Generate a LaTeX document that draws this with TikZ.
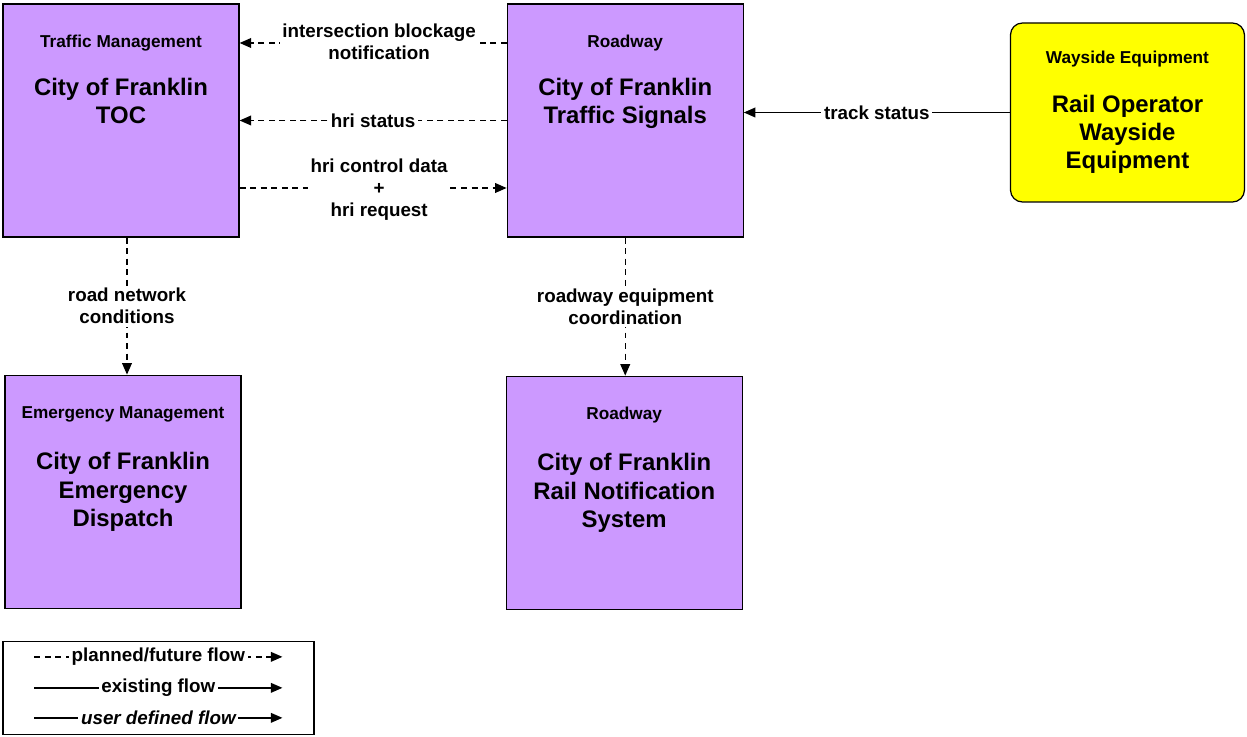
\documentclass[tikz,border=0pt]{standalone}
\usepackage{fontspec}
\setmainfont{Liberation Sans}
\usetikzlibrary{positioning,arrows.meta}
\definecolor{elemviolet}{HTML}{CC99FF}
\definecolor{wayyellow}{HTML}{FFFF00}

\begin{document}
\begin{tikzpicture}[
    node distance=2.78cm and 5.34cm,
    element/.style={rectangle, draw, line width=0.7pt, fill=elemviolet, minimum width=4.72cm, minimum height=4.66cm, inner sep=0pt},
    wayside/.style={element, fill=wayyellow, rounded corners=0.24cm, minimum width=4.68cm, minimum height=3.58cm},
    cat/.style={font=\bfseries\fontsize{9.8}{11.5}\selectfont, inner sep=0pt, anchor=base},
    elemname/.style={font=\bfseries\fontsize{13.6}{16.2}\selectfont, align=center, inner sep=0pt, anchor=north},
    flowlbl/.style={font=\bfseries\fontsize{10.7}{12.5}\selectfont, align=center, fill=white, inner sep=1.5pt},
    flow/.style={line width=0.75pt, -{Triangle[length=6.5pt, width=5.5pt]}},
    planned/.style={flow, dash pattern=on 3.4pt off 2.6pt}
]
\useasboundingbox (0,0) rectangle (24.94,14.72);

% Elements
\node[element] (toc) at (2.42,12.31) {};
\node[element, right=of toc] (sig) {};
\node[wayside, right=5.32cm of sig, yshift=0.16cm] (way) {};
\node[element, below=2.74cm of toc, xshift=0.04cm] (em) {};
\node[element, below=2.76cm of sig, xshift=-0.02cm] (rail) {};

% Element texts
\node[cat] (toc-cat) at ([yshift=-0.88cm]toc.north) {Traffic Management};
\node[elemname] (toc-name) at ([yshift=-1.48cm]toc.north) {City of Franklin\\TOC};
\node[cat] (sig-cat) at ([yshift=-0.88cm]sig.north) {Roadway};
\node[elemname] (sig-name) at ([yshift=-1.48cm]sig.north) {City of Franklin\\Traffic Signals};
\node[cat] (way-cat) at ([yshift=-0.82cm]way.north) {Wayside Equipment};
\node[elemname] (way-name) at ([yshift=-1.44cm]way.north) {Rail Operator\\Wayside\\Equipment};
\node[cat] (em-cat) at ([yshift=-0.88cm]em.north) {Emergency Management};
\node[elemname] (em-name) at ([yshift=-1.55cm]em.north) {City of Franklin\\Emergency\\Dispatch};
\node[cat] (rail-cat) at ([yshift=-0.88cm]rail.north) {Roadway};
\node[elemname] (rail-name) at ([yshift=-1.55cm]rail.north) {City of Franklin\\Rail Notification\\System};

% Flows between TOC and traffic signals
\draw[planned] ([yshift=1.55cm]sig.west) -- node[flowlbl, xshift=0.12cm, yshift=0.03cm] {intersection blockage\\notification} ([yshift=1.55cm]toc.east);
\draw[planned] (sig.west) -- node[flowlbl] {hri status} (toc.east);
\draw[planned] ([yshift=-1.35cm]toc.east) -- node[flowlbl, xshift=0.12cm, yshift=-0.04cm] {hri control data\\+\\hri request} ([yshift=-1.35cm]sig.west);

% Wayside to traffic signals
\draw[flow] (way.west) -- node[flowlbl] {track status} (way.west -| sig.east);

% Downward flows
\draw[planned] ([xshift=0.12cm]toc.south) -- node[flowlbl] {road network\\conditions} ([xshift=0.12cm]toc.south |- em.north);
\draw[planned] (sig.south) -- node[flowlbl] {roadway equipment\\coordination} (sig.south |- rail.north);

% Legend
\node[draw, line width=0.7pt, minimum width=6.22cm, minimum height=1.86cm, inner sep=0pt, below right=0.64cm and -0.04cm of em.south west] (legend) {};
\coordinate (lp-a) at ([xshift=0.64cm, yshift=-0.32cm]legend.north west);
\coordinate (lp-b) at ([xshift=5.60cm, yshift=-0.32cm]legend.north west);
\coordinate (le-a) at ([xshift=0.64cm, yshift=-0.94cm]legend.north west);
\coordinate (le-b) at ([xshift=5.60cm, yshift=-0.94cm]legend.north west);
\coordinate (lu-a) at ([xshift=0.64cm, yshift=-1.54cm]legend.north west);
\coordinate (lu-b) at ([xshift=5.60cm, yshift=-1.54cm]legend.north west);
\draw[planned] (lp-a) -- node[flowlbl] {planned/future flow} (lp-b);
\draw[flow] (le-a) -- node[flowlbl] {existing flow} (le-b);
\draw[flow] (lu-a) -- node[flowlbl, font=\bfseries\itshape\fontsize{10.7}{12.5}\selectfont] {user defined flow} (lu-b);

\end{tikzpicture}
\end{document}
